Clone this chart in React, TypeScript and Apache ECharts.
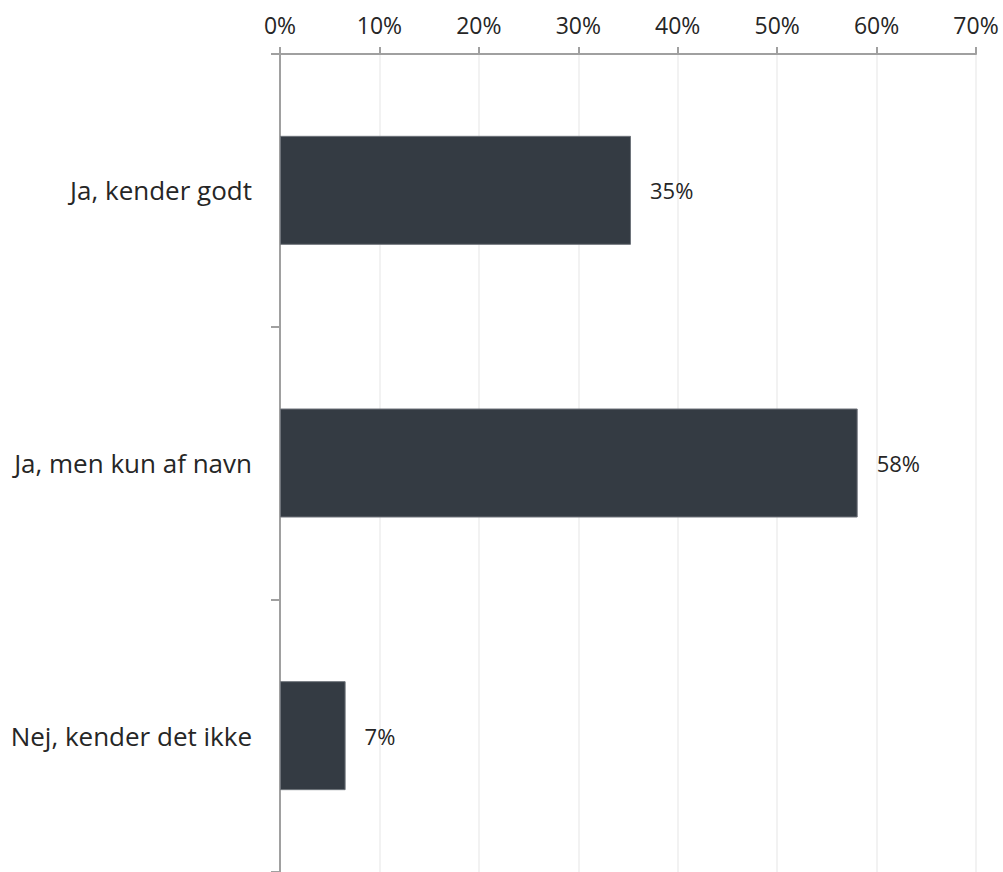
import React, { useEffect, useRef } from "react";
import * as echarts from "echarts";

const categories = ["Ja, kender godt", "Ja, men kun af navn", "Nej, kender det ikke"];
const values = [35.3, 58.1, 6.6];
const axisMax = 70;
const axisInterval = 10;

export default function App() {
  const ref = useRef<HTMLDivElement>(null);
  useEffect(() => {
    if (!ref.current) return;
    const chart = echarts.init(ref.current, null, { renderer: "svg" });
    const font = "'Open Sans', 'Noto Sans', sans-serif";
    chart.setOption({
      animation: false,
      grid: { left: 280, top: 54, width: 696, height: 824, containLabel: false },
      xAxis: {
        type: "value",
        position: "top",
        min: 0,
        max: axisMax,
        interval: axisInterval,
        axisLine: { show: true, lineStyle: { color: "#a0a0a0", width: 2 } },
        axisTick: { show: true, length: 7, lineStyle: { color: "#a0a0a0", width: 2 } },
        axisLabel: {
          formatter: (v: number) => `${v}%`,
          color: "#262626",
          fontSize: 23,
          fontFamily: font,
          margin: 18,
        },
        splitLine: { show: true, lineStyle: { color: "#f2f2f2", width: 2 } },
      },
      yAxis: {
        type: "category",
        data: categories,
        inverse: true,
        axisLine: { show: true, lineStyle: { color: "#a0a0a0", width: 2 } },
        axisTick: { show: true, length: 9, lineStyle: { color: "#a0a0a0", width: 2 } },
        axisLabel: {
          color: "#262626",
          fontSize: 26,
          fontFamily: font,
          margin: 28,
        },
        splitLine: { show: false },
      },
      series: [
        {
          type: "bar",
          data: values,
          barWidth: 109,
          itemStyle: { color: "#343b43", borderColor: "#6e737a", borderWidth: 1 },
          label: {
            show: true,
            position: "right",
            distance: 19,
            formatter: (p: any) => `${Math.round(p.value)}%`,
            color: "#262626",
            fontSize: 22,
            fontFamily: font,
          },
        },
      ],
    });
    return () => chart.dispose();
  }, []);
  return (
    <div
      ref={ref}
      style={{ position: "absolute", left: 0, top: 0, width: 1003, height: 872, background: "#fff" }}
    />
  );
}
